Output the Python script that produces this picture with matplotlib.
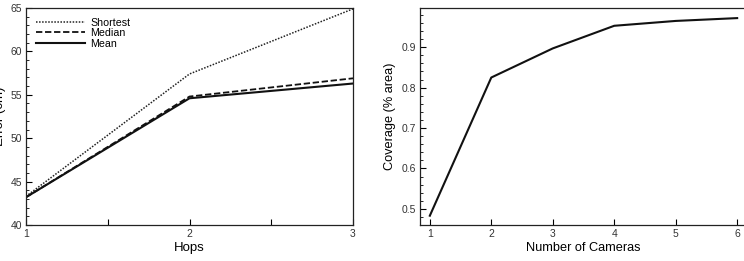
import matplotlib.pyplot as plt
from matplotlib.ticker import MultipleLocator, FixedLocator

plt.rcParams['font.family'] = ['Liberation Sans', 'DejaVu Sans']
plt.rcParams['font.size'] = 7.5

# left panel: localisation error vs hops
hops = [1, 2, 3]
err_shortest = [43.3, 57.4, 64.9]
err_median = [43.2, 54.8, 56.9]
err_mean = [43.2, 54.6, 56.3]

# right panel: coverage vs number of cameras
cameras = [1, 2, 3, 4, 5, 6]
coverage = [0.483, 0.825, 0.897, 0.953, 0.965, 0.972]

W, H = 744, 261
fig = plt.figure(figsize=(W / 100, H / 100), dpi=100)

def box(l, t, r, b):
    return [l / W, 1 - b / H, (r - l) / W, (b - t) / H]

ax1 = fig.add_axes(box(26, 8, 353, 225))
ax1.plot(hops, err_shortest, color='#222', lw=1.1, ls=(0, (1, 1)), label='Shortest')
ax1.plot(hops, err_median, color='#111', lw=1.3, ls=(0, (3.5, 1.5)), label='Median')
ax1.plot(hops, err_mean, color='#111', lw=1.5, label='Mean')
ax1.set_xlim(1, 3)
ax1.set_ylim(40, 65)
ax1.xaxis.set_major_locator(FixedLocator([1, 2, 3]))
ax1.xaxis.set_minor_locator(FixedLocator([1.5, 2.5]))
ax1.yaxis.set_major_locator(MultipleLocator(5))
ax1.yaxis.set_minor_locator(MultipleLocator(1))
ax1.set_xlabel('Hops', fontsize=9.5, labelpad=2)
ax1.set_ylabel('Error (cm)', fontsize=9.5)
ax1.yaxis.set_label_coords(-0.062, 0.5)
ax1.legend(loc='upper left', frameon=False, handlelength=4.6, handletextpad=0.5,
           labelspacing=0.05, borderaxespad=0.5, fontsize=7.7)

ax2 = fig.add_axes(box(420, 8, 747, 225))
ax2.plot(cameras, coverage, color='#111', lw=1.5)
ax2.set_xlim(0.84, 6.16)
ax2.set_ylim(0.46, 0.997)
ax2.xaxis.set_major_locator(MultipleLocator(1))
ax2.yaxis.set_major_locator(MultipleLocator(0.1))
ax2.yaxis.set_minor_locator(MultipleLocator(0.02))
ax2.set_xlabel('Number of Cameras', fontsize=9.2, labelpad=2)
ax2.set_ylabel('Coverage (% area)', fontsize=9.2, labelpad=4)

for ax in (ax1, ax2):
    for s in ax.spines.values():
        s.set_linewidth(0.9)
        s.set_color('#222')
    ax.tick_params(which='major', direction='in', length=4, width=0.8,
                   labelsize=7.5, labelcolor='#333', pad=3)
    ax.tick_params(which='minor', direction='in', length=2, width=0.6)
    ax.tick_params(axis='x', which='minor', length=4, width=0.8)

fig.savefig('out.png', dpi=100)
